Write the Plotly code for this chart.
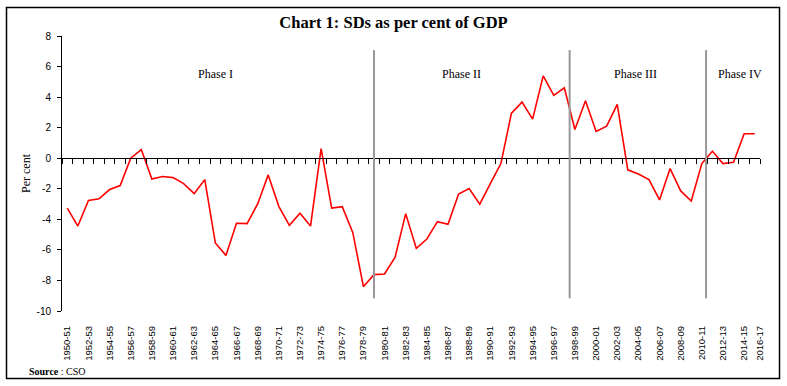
import plotly.graph_objects as go

# ---------------- data ----------------
categories = [f"{y}-{(y + 1) % 100:02d}" for y in range(1950, 2016)]  # 1950-51 ... 2015-16
sd_pct_gdp = [-3.26, -4.44, -2.77, -2.66, -2.05, -1.79, 0.00, 0.57, -1.36, -1.20,
              -1.27, -1.66, -2.31, -1.40, -5.55, -6.36, -4.26, -4.28, -2.99, -1.09,
              -3.15, -4.39, -3.60, -4.44, 0.63, -3.26, -3.17, -4.87, -8.41, -7.62,
              -7.58, -6.47, -3.63, -5.90, -5.29, -4.15, -4.33, -2.34, -1.99, -3.01,
              -1.66, -0.35, 2.95, 3.67, 2.56, 5.39, 4.11, 4.61, 1.88, 3.76,
              1.75, 2.10, 3.52, -0.76, -1.03, -1.40, -2.73, -0.68, -2.14, -2.80,
              -0.35, 0.46, -0.35, -0.26, 1.60, 1.60]
tick_labels = categories[::2] + ["2016-17"]
y_ticks = [8, 6, 4, 2, 0, -2, -4, -6, -8, -10]
phase_names = ["Phase I", "Phase II", "Phase III", "Phase IV"]
phase_label_pos = [14.0, 37.3, 53.7, 63.6]   # category positions of the labels
phase_breaks = [29.0, 47.5, 60.4]           # category positions of the dividers

# ---------------- geometry ----------------
W, H = 787, 386
PL, PR, PT, PB = 62, 760, 36, 311   # plot area in pixels
pw, ph = PR - PL, PB - PT


def px_x(x):
    return (x - PL) / pw


def px_y(y):
    return (PB - y) / ph


xs = list(range(len(categories)))
n = len(categories)

fig = go.Figure()
fig.add_trace(go.Scatter(
    x=xs, y=sd_pct_gdp, mode="lines",
    line=dict(color="#ff0000", width=1.6),
    text=categories, hovertemplate="%{text}: %{y:.2f}<extra></extra>",
    showlegend=False,
))
# helper trace so the zero-line axis is drawn
fig.add_trace(go.Scatter(
    x=[xs[0], xs[-1]], y=[0, 0], xaxis="x2", mode="lines",
    line=dict(width=0, color="rgba(0,0,0,0)"), hoverinfo="skip", showlegend=False,
))

xtickfont = dict(family="Liberation Sans", size=9.5, color="#000000")
ytickfont = dict(family="Liberation Sans", size=10, color="#000000")
serif = "Liberation Serif"

fig.update_layout(
    width=W, height=H,
    margin=dict(l=PL, r=W - PR, t=PT, b=H - PB, pad=0),
    paper_bgcolor="white", plot_bgcolor="white",
    title=dict(text="<b>Chart 1: SDs as per cent of GDP</b>",
               x=0.5, xref="container", xanchor="center",
               y=1 - 22 / H, yref="container", yanchor="middle",
               font=dict(family=serif, size=16.5, color="#000000")),
    xaxis=dict(
        range=[-0.5, n - 0.5], showgrid=False, zeroline=False, showline=False,
        ticks="", tickmode="array",
        tickvals=list(range(0, n, 2)) + [n - 0.5],
        ticktext=tick_labels, tickangle=-90, tickfont=xtickfont,
        ticklabelstandoff=12,
    ),
    xaxis2=dict(
        overlaying="x", anchor="free", position=10 / 18, side="bottom",
        range=[-0.5, n - 0.5], showgrid=False, zeroline=False,
        showline=True, linecolor="#000000", linewidth=1,
        ticks="outside", ticklen=5, tickcolor="#000000", tickwidth=1,
        tickmode="array", tickvals=[i - 0.5 for i in range(n + 1)],
        showticklabels=False,
    ),
    yaxis=dict(
        range=[-10, 8], showgrid=False, zeroline=False,
        showline=True, linecolor="#000000", linewidth=1,
        ticks="outside", ticklen=4, tickcolor="#000000",
        tickmode="array", tickvals=y_ticks, ticktext=[str(v) for v in y_ticks],
        tickfont=ytickfont, ticklabelstandoff=4,
        title=dict(text="Per cent", font=dict(family=serif, size=12, color="#000000"),
                   standoff=3),
    ),
)

for name, xp in zip(phase_names, phase_label_pos):
    fig.add_annotation(x=xp, y=5.5, xref="x", yref="y", text=name, showarrow=False,
                       font=dict(family=serif, size=12, color="#000000"))

for b in phase_breaks:
    fig.add_shape(type="line", xref="x", yref="y", x0=b, x1=b, y0=-9.17, y1=7.08,
                  line=dict(color="#999999", width=2))

# source note
fig.add_annotation(x=px_x(27), y=px_y(371), xref="paper", yref="paper",
                   xanchor="left", yanchor="middle", showarrow=False,
                   text="<b>Source</b> : CSO",
                   font=dict(family=serif, size=10, color="#000000"))

# outer frame
fig.add_shape(type="rect", xref="paper", yref="paper",
              x0=px_x(6.5), x1=px_x(779.5), y0=px_y(378.5), y1=px_y(7.5),
              line=dict(color="#000000", width=1.5), fillcolor="rgba(0,0,0,0)")

fig.write_html(
    "out.html",
    config={"displayModeBar": False},
    post_script="document.body.style.margin='0';document.body.style.overflow='hidden';",
)
